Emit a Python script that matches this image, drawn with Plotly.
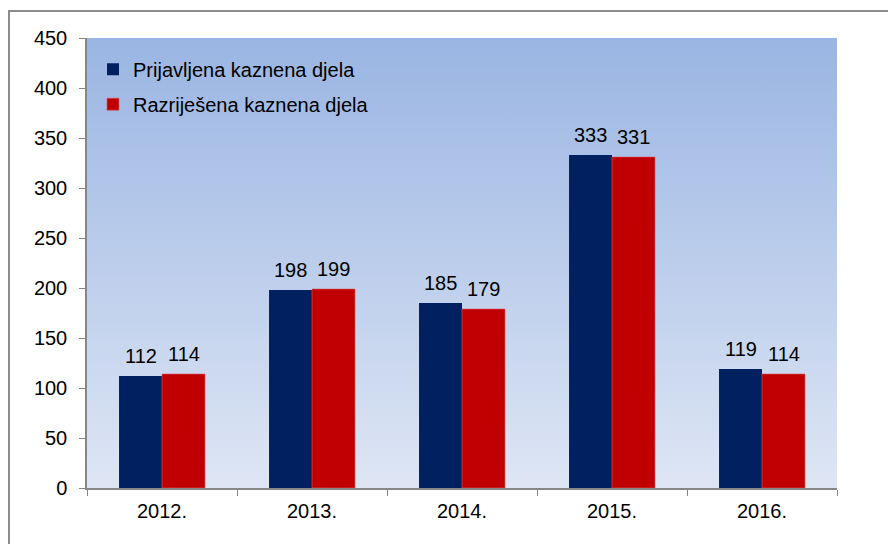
import base64
import plotly.graph_objects as go

years = ["2012.", "2013.", "2014.", "2015.", "2016."]
prijavljena = [112, 198, 185, 333, 119]
razrijesena = [114, 199, 179, 331, 114]
series_names = ["Prijavljena kaznena djela", "Razriješena kaznena djela"]

NAVY = "#002060"
RED = "#C00000"
FONT = "Liberation Sans, Arial, sans-serif"

# page has an 8px body margin; plot area is 750x450 placed at page (87, 38)
L, T, W, H = 79, 30, 750, 450

svg = ('<svg xmlns="http://www.w3.org/2000/svg" width="100" height="100" preserveAspectRatio="none">'
       '<defs><linearGradient id="g" x1="0" y1="0" x2="0" y2="1">'
       '<stop offset="0" stop-color="#9AB5E3"/><stop offset="1" stop-color="#DEE6F4"/>'
       '</linearGradient></defs><rect width="100" height="100" fill="url(#g)"/></svg>')
src = "data:image/svg+xml;base64," + base64.b64encode(svg.encode()).decode()

fig = go.Figure()
fig.add_trace(go.Bar(x=years, y=prijavljena, name=series_names[0], marker_color=NAVY,
                     marker_line_width=0, legendgroup="a"))
fig.add_trace(go.Bar(x=years, y=razrijesena, name=series_names[1], marker_color=RED,
                     marker_line=dict(color="#D9575A", width=0.6), legendgroup="b"))

off = 0.1433
for i in range(len(years)):
    for v, dx in ((prijavljena[i], -off), (razrijesena[i], off)):
        fig.add_annotation(x=i + dx, y=v, xref="x", yref="y", text=str(v), showarrow=False,
                           yanchor="bottom", yshift=7, font=dict(size=20, color="#000", family=FONT))

fig.add_layout_image(dict(source=src, xref="x domain", yref="y domain", x=0, y=1,
                          sizex=1, sizey=1, sizing="stretch", xanchor="left", yanchor="top",
                          layer="below"))

# outer chart border (cut off at right and bottom)
fig.add_shape(type="rect", xref="paper", yref="paper",
              x0=(1 - L) / W, x1=(905 - L) / W, y0=(T + H - 560) / H, y1=(T + H - 3) / H,
              line=dict(color="#8C8C8C", width=2), fillcolor="rgba(0,0,0,0)", layer="below")

fig.update_layout(
    width=896, height=544,
    margin=dict(l=L, r=896 - L - W, t=T, b=544 - T - H),
    paper_bgcolor="white", plot_bgcolor="rgba(0,0,0,0)",
    barmode="group", bargap=0.427, bargroupgap=0,
    font=dict(family=FONT, size=20, color="#000"),
    legend=dict(x=0.008, y=0.974, xanchor="left", yanchor="top", bgcolor="rgba(0,0,0,0)",
                font=dict(size=20), tracegroupgap=6, itemwidth=30),
    showlegend=True,
)
fig.update_xaxes(type="category", showline=True, linecolor="#868686", linewidth=1.5,
                 ticks="outside", tickson="boundaries", ticklen=6, tickcolor="#868686",
                 showgrid=False, tickfont=dict(size=20), ticklabelstandoff=4)
fig.update_yaxes(range=[0, 450], dtick=50, showline=True, linecolor="#868686", linewidth=1.5,
                 ticks="outside", ticklen=6, tickcolor="#868686", showgrid=False, zeroline=False,
                 tickfont=dict(size=20), ticklabelstandoff=8)

fig.write_html("out.html")
